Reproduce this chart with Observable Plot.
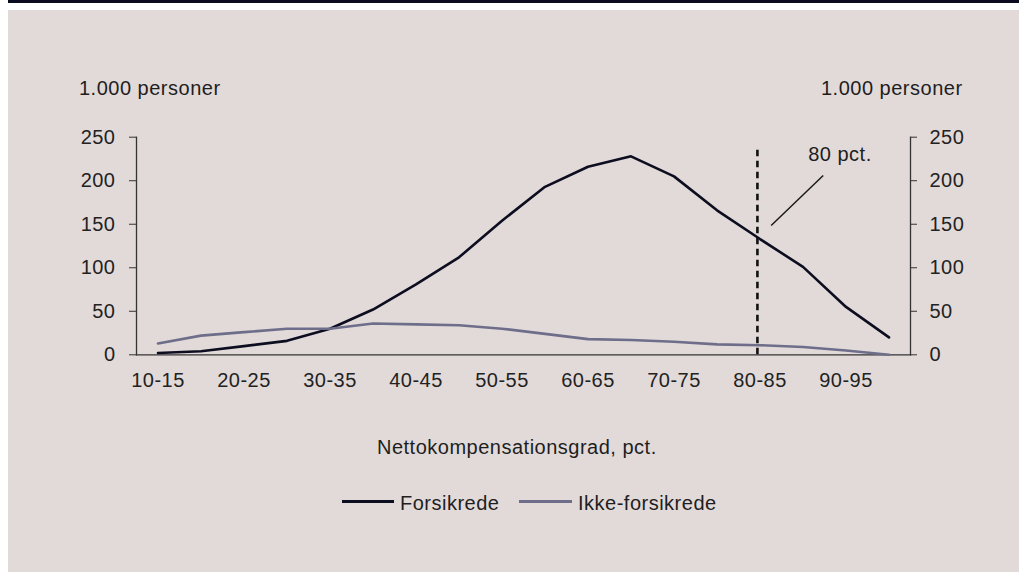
<!DOCTYPE html>
<html>
<head>
<meta charset="utf-8">
<script src="https://cdn.jsdelivr.net/npm/d3@7"></script>
<script src="https://cdn.jsdelivr.net/npm/@observablehq/plot@0.6"></script>
<style>
  html, body { margin: 0; padding: 0; background: #ffffff; width: 1019px; height: 572px; overflow: hidden; }
  body { position: relative; font-family: "Liberation Sans", Arial, sans-serif; color: #1e1e1e; }
  #topbar { position: absolute; left: 8px; top: 0; width: 1011px; height: 3px; background: #0b0b1f; }
  #panel { position: absolute; left: 8px; top: 10px; width: 1011px; height: 562px; background: #e2dad9; }
  .txt { position: absolute; font-size: 20px; letter-spacing: 0.5px; white-space: nowrap; line-height: 1; }
  #chart { position: absolute; left: 0; top: 100px; }
  .sw { position: absolute; height: 3px; }
</style>
</head>
<body>
<div id="topbar"></div>
<div id="panel"></div>
<div class="txt" id="unitL" style="left:79px; top:78px;">1.000 personer</div>
<div class="txt" id="unitR" style="left:821px; top:78px;">1.000 personer</div>
<div id="chart"></div>
<div class="txt" id="xtitle" style="left:377px; top:437px;">Nettokompensationsgrad, pct.</div>
<div class="sw" style="left:342px; top:500px; width:52px; background:#0d0d20;"></div>
<div class="txt" style="left:400px; top:493px;">Forsikrede</div>
<div class="sw" style="left:519px; top:500px; width:53px; background:#6e6e8a;"></div>
<div class="txt" style="left:578px; top:493px;">Ikke-forsikrede</div>
<script>
const categories = ["10-15","15-20","20-25","25-30","30-35","35-40","40-45","45-50","50-55","55-60","60-65","65-70","70-75","75-80","80-85","85-90","90-95","95-100"];
const forsikrede = [2,4,10,16,30,52,81,112,154,193,216,228,205,166,133,101,55,20];
const ikkeForsikrede = [13,22,26,30,30,36,35,34,30,24,18,17,15,12,11,9,5,0];
const tickLabels = ["10-15","20-25","30-35","40-45","50-55","60-65","70-75","80-85","90-95"];
const yTicks = [0,50,100,150,200,250];
const seriesNames = ["Forsikrede","Ikke-forsikrede"];
const seriesColors = ["#0d0d20","#6e6e8a"];
const annotationText = "80 pct.";
const markerX = 82.2;       // position of dashed 80 pct. line (category-midpoint units)
const markerTop = 235;
const leader = {x1: 83.8, y1: 148.6, x2: 89.85, y2: 206};
const annotationPos = {x: 88.1, y: 230};

const mid = c => { const [a,b] = c.split("-").map(Number); return (a+b)/2; };
const labelByMid = new Map(categories.map(c => [mid(c), c]));

const data = [];
categories.forEach((c,i) => {
  data.push({series: seriesNames[0], x: mid(c), y: forsikrede[i]});
  data.push({series: seriesNames[1], x: mid(c), y: ikkeForsikrede[i]});
});

const font = "Liberation Sans, Arial, sans-serif";
const chart = Plot.plot({
  width: 1019,
  height: 300,
  marginLeft: 136,
  marginRight: 109,
  marginTop: 36.7,
  marginBottom: 45.7,
  style: {background: "transparent", fontFamily: font, fontSize: "20px", color: "#222", letterSpacing: "0.5px", overflow: "visible"},
  x: {type: "linear", domain: [10, 100]},
  y: {domain: [0, 250]},
  color: {domain: seriesNames, range: seriesColors},
  marks: [
    Plot.frame({anchor: "left", stroke: "#333", strokeWidth: 1.3}),
    Plot.frame({anchor: "right", stroke: "#333", strokeWidth: 1.3}),
    Plot.frame({anchor: "bottom", stroke: "#333", strokeWidth: 1.3}),
    Plot.axisY({anchor: "left", ticks: yTicks, tickSize: 7, tickPadding: 14, label: null, stroke: "#333"}),
    Plot.axisY({anchor: "right", ticks: yTicks, tickSize: 6, tickPadding: 13, label: null, stroke: "#333"}),
    Plot.axisX({ticks: tickLabels.map(mid), tickFormat: d => labelByMid.get(d), tickSize: 0, tickPadding: 18, label: null}),
    Plot.ruleX([markerX], {y1: 0, y2: markerTop, stroke: "#111", strokeWidth: 2.6, strokeDasharray: "6.5,4.5"}),
    Plot.line(data, {x: "x", y: "y", z: "series", stroke: "series", strokeWidth: 2.6, strokeLinejoin: "miter"}),
    Plot.link([leader], {x1: "x1", y1: "y1", x2: "x2", y2: "y2", stroke: "#1a1a1a", strokeWidth: 1.5}),
    Plot.text([annotationPos], {x: "x", y: "y", text: () => annotationText, textAnchor: "start", lineAnchor: "middle", fontSize: 20, fill: "#1e1e1e"})
  ]
});
document.getElementById("chart").appendChild(chart);
</script>
</body>
</html>
